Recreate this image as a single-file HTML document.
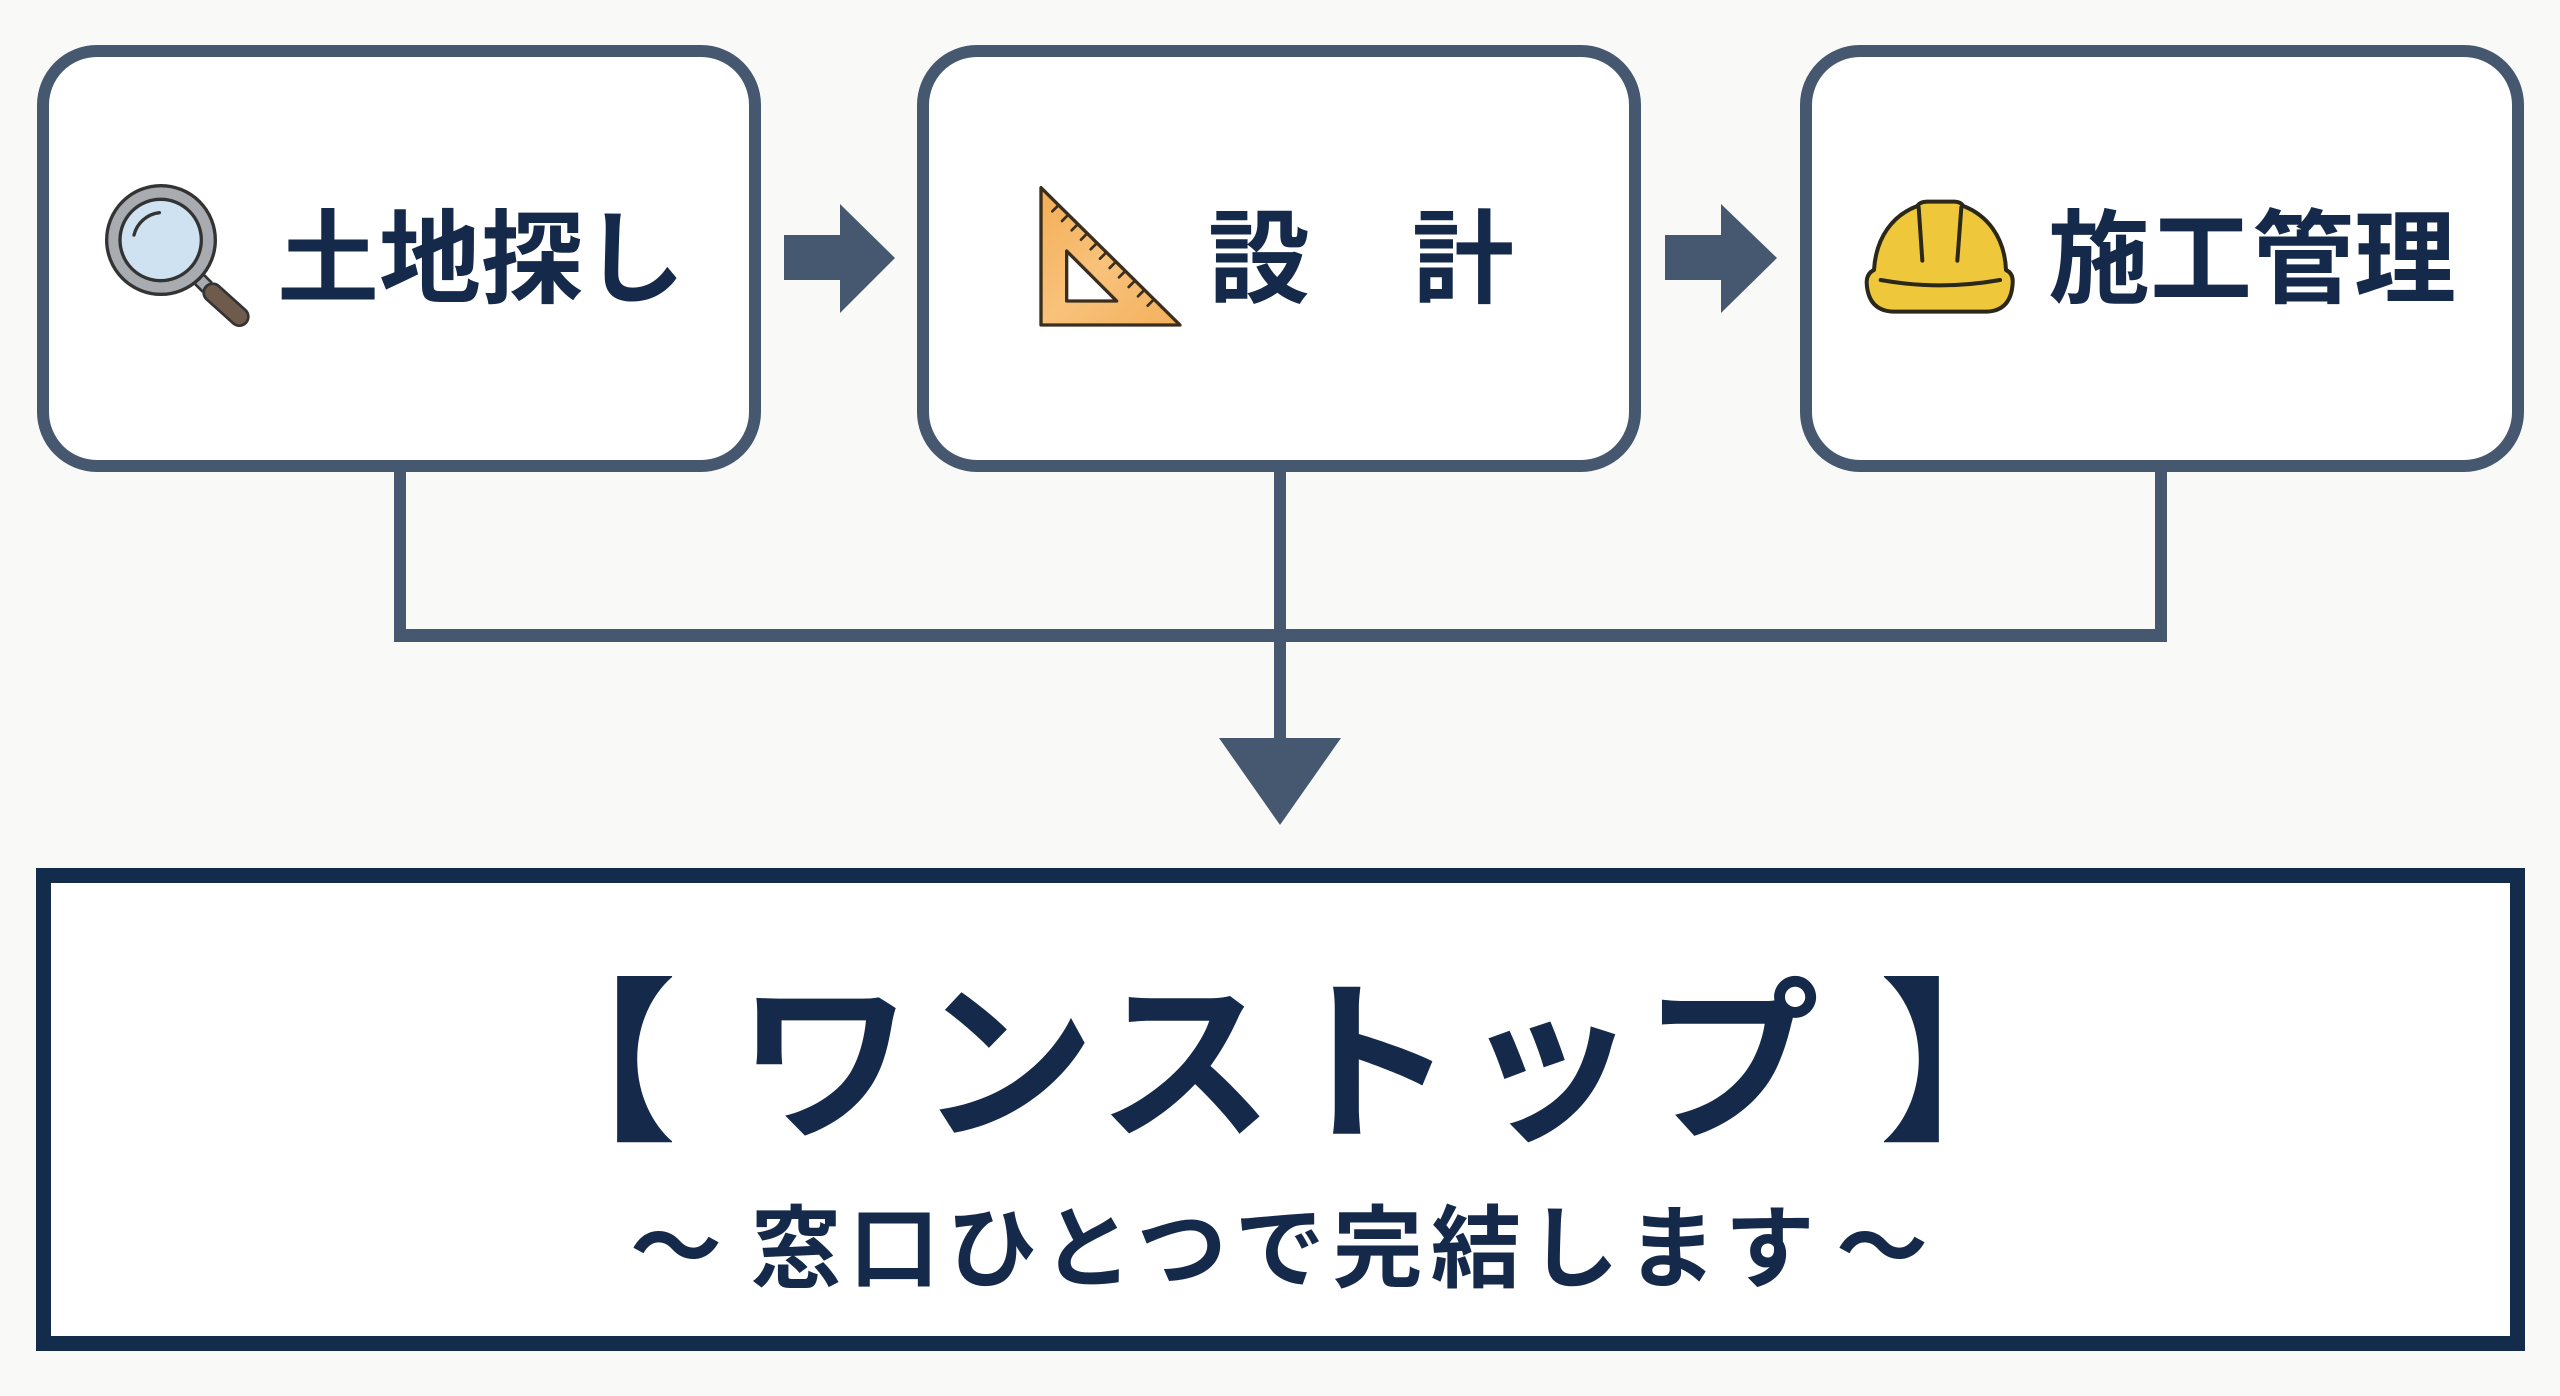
<!DOCTYPE html>
<html><head><meta charset="utf-8">
<style>
html,body{margin:0;padding:0;}
body{width:2560px;height:1396px;background:#f9f9f8;position:relative;overflow:hidden;
font-family:"Liberation Sans","Noto Sans CJK JP",sans-serif;}
.box{position:absolute;top:45px;width:700px;height:403px;border:12px solid #46586f;border-radius:60px;background:#fff;}
.t{position:absolute;white-space:nowrap;color:#15294a;font-weight:700;font-family:"Liberation Sans","Noto Sans CJK JP",sans-serif;}
.h{font-size:102px;line-height:102px;height:102px;top:209px;}
svg{position:absolute;overflow:visible;}
</style></head><body>

<!-- top boxes -->
<div class="box" style="left:37px;"></div>
<div class="box" style="left:917px;"></div>
<div class="box" style="left:1800px;"></div>

<!-- connectors -->
<svg style="left:0;top:0" width="2560" height="1396" viewBox="0 0 2560 1396">
  <g fill="#46586f">
    <!-- arrow 1 -->
    <rect x="784" y="235" width="58" height="45"/>
    <polygon points="840,204 895,258 840,313"/>
    <!-- arrow 2 -->
    <rect x="1665" y="235" width="58" height="45"/>
    <polygon points="1721,204 1777,258 1721,313"/>
    <!-- verticals -->
    <rect x="394" y="470" width="12" height="172"/>
    <rect x="1274" y="470" width="12" height="272"/>
    <rect x="2155" y="470" width="12" height="172"/>
    <!-- horizontal bar -->
    <rect x="394" y="629" width="1773" height="13"/>
    <!-- down arrowhead -->
    <polygon points="1219,738 1341,738 1280,825"/>
  </g>
</svg>

<!-- magnifier icon -->
<svg style="left:90px;top:170px" width="180" height="170" viewBox="0 0 540 510">
  <line x1="322" y1="322" x2="352" y2="352" stroke="#333" stroke-width="46"/>
  <line x1="322" y1="322" x2="352" y2="352" stroke="#a8abb0" stroke-width="30"/>
  <line x1="368" y1="368" x2="448" y2="440" stroke="#333" stroke-width="62" stroke-linecap="round"/>
  <line x1="368" y1="368" x2="448" y2="440" stroke="#6f5b4b" stroke-width="46" stroke-linecap="round"/>
  <circle cx="213" cy="210" r="163" fill="#a8abb0" stroke="#333" stroke-width="10"/>
  <circle cx="212" cy="210" r="122" fill="#cfe2f1" stroke="#333" stroke-width="10"/>
  <path d="M132 195 A 88 88 0 0 1 208 128" fill="none" stroke="#333" stroke-width="10" stroke-linecap="round"/>
</svg>

<!-- set square icon -->
<svg style="left:1025px;top:175px" width="170" height="170" viewBox="0 0 510 510">
  <defs>
    <linearGradient id="og" x1="0" y1="0" x2="1" y2="1">
      <stop offset="0" stop-color="#f4ad55"/>
      <stop offset="0.5" stop-color="#f8c27b"/>
      <stop offset="1" stop-color="#f4b05c"/>
    </linearGradient>
  </defs>
  <path d="M48 38 L48 450 L465 450 Z" fill="url(#og)" stroke="#3a2e1e" stroke-width="10" stroke-linejoin="round"/>
  <path d="M125 228 L125 378 L275 378 Z" fill="#fff" stroke="#3a2e1e" stroke-width="10" stroke-linejoin="round"/>
  <g stroke="#3a2e1e" stroke-width="8" stroke-linecap="round">
    <line x1="101" y1="90" x2="82" y2="109"/>
    <line x1="130" y1="119" x2="111" y2="138"/>
    <line x1="159" y1="147" x2="140" y2="166"/>
    <line x1="187" y1="175" x2="168" y2="194"/>
    <line x1="216" y1="204" x2="197" y2="223"/>
    <line x1="244" y1="232" x2="225" y2="251"/>
    <line x1="273" y1="260" x2="254" y2="279"/>
    <line x1="301" y1="288" x2="282" y2="307"/>
    <line x1="330" y1="317" x2="311" y2="336"/>
    <line x1="358" y1="345" x2="339" y2="364"/>
    <line x1="387" y1="373" x2="368" y2="392"/>
  </g>
</svg>

<!-- hard hat icon -->
<svg style="left:1840px;top:170px" width="200" height="170" viewBox="0 0 600 510">
  <path d="M102 300 C 108 200, 160 135, 232 108 Q 240 95, 262 95 L 343 95 Q 362 95, 370 108 C 440 135, 494 200, 498 300 Q 520 310, 518 338 Q 514 422, 440 425 L 160 425 Q 84 422, 80 338 Q 80 310, 102 300 Z"
        fill="#efc73b" stroke="#2b2719" stroke-width="12" stroke-linejoin="round"/>
  <g stroke="#2b2719" stroke-width="12" stroke-linecap="round" fill="none">
    <line x1="236" y1="112" x2="247" y2="272"/>
    <line x1="364" y1="112" x2="352" y2="272"/>
    <path d="M122 330 Q 300 362 480 330"/>
  </g>
</svg>

<!-- top labels -->
<div class="t h" style="left:277px;">土地探し</div>
<div class="t h" style="left:1208px;">設　計</div>
<div class="t h" style="left:2048px;">施工管理</div>

<!-- bottom box -->
<div style="position:absolute;left:36px;top:868px;width:2459px;height:453px;border:15px solid #142c4b;background:#fff;"></div>

<div class="t" style="left:501px;top:978px;font-size:176px;line-height:176px;height:176px;">【</div>
<div class="t" style="left:737px;top:978px;font-size:176px;line-height:176px;height:176px;letter-spacing:6px;">ワンストップ</div>
<div class="t" style="left:1879px;top:978px;font-size:176px;line-height:176px;height:176px;">】</div>

<div class="t" style="left:630px;top:1203px;font-size:92px;line-height:92px;height:92px;">〜</div>
<div class="t" style="left:751px;top:1205px;font-size:90px;line-height:90px;height:90px;letter-spacing:8px;">窓口ひとつで完結します</div>
<div class="t" style="left:1836px;top:1203px;font-size:92px;line-height:92px;height:92px;">〜</div>

</body></html>
